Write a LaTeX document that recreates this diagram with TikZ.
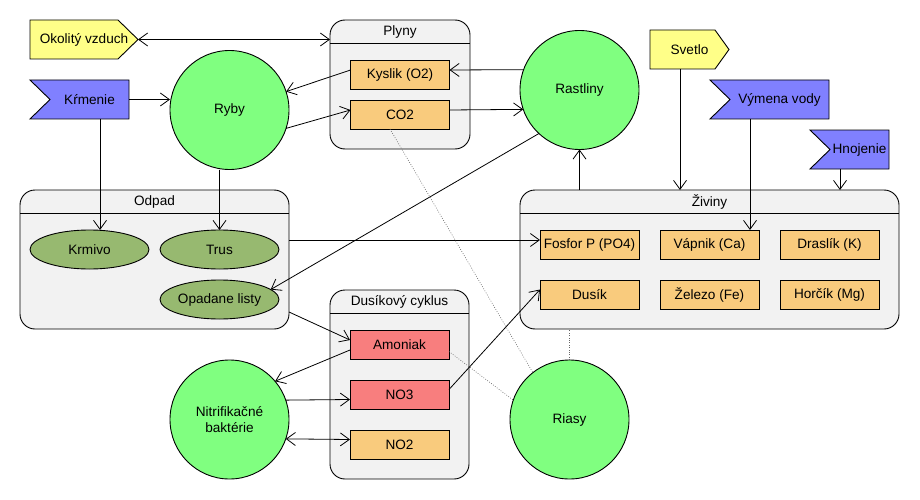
\documentclass[tikz,border=0pt]{standalone}
\usepackage{fontspec}
\setmainfont{Liberation Sans}
\usetikzlibrary{arrows.meta,calc,shapes.geometric}
\definecolor{cgreen}{HTML}{80FF80}
\definecolor{colive}{HTML}{97B970}
\definecolor{corange}{HTML}{F9CB7D}
\definecolor{cred}{HTML}{F87E7E}
\definecolor{cblue}{HTML}{8080FF}
\definecolor{cyellow}{HTML}{FFFF88}
\definecolor{cgray}{HTML}{F2F2F2}
\definecolor{cdot}{HTML}{666666}
\begin{document}
\begin{tikzpicture}[x=1pt,y=-1pt,
  font=\fontsize{13.6}{16.5}\selectfont,
  every node/.style={inner sep=0pt, outer sep=0pt},
  cont/.style={draw, fill=cgray, rounded corners=15pt, line width=0.9pt},
  box/.style={draw, line width=0.9pt, minimum width=99pt, minimum height=29pt},
  obox/.style={box, fill=corange},
  rbox/.style={box, fill=cred},
  circ/.style={circle, draw, line width=0.9pt, fill=cgreen, minimum size=119pt, align=center},
  ell/.style={ellipse, draw, line width=0.9pt, fill=colive, minimum width=119pt, minimum height=39pt},
  frame/.style={minimum height=39pt},
  outl/.style={draw, line width=0.9pt},
  arr/.style={-{Straight Barb[length=9pt,width=13pt]}, line width=0.8pt},
  darr/.style={{Straight Barb[length=9pt,width=13pt]}-{Straight Barb[length=9pt,width=13pt]}, line width=0.8pt},
  dots/.style={draw=cdot, line width=0.6pt, dash pattern=on 0.8pt off 1.6pt},
]
\useasboundingbox (0,0) rectangle (920,500);

% containers
\node[cont, minimum width=140pt, minimum height=129pt] (plyny) at (400,84.5) {};
\node[cont, minimum width=269pt, minimum height=139pt] (odpad) at (154.5,259.5) {};
\node[cont, minimum width=379pt, minimum height=139pt] (ziv) at (709.5,259.5) {};
\node[cont, minimum width=139pt, minimum height=189pt] (dus) at (399.5,384.5) {};
\draw[line width=0.9pt] ([yshift=-23pt]plyny.north west) -- ([yshift=-23pt]plyny.north east);
\draw[line width=0.9pt] ([yshift=-23pt]odpad.north west) -- ([yshift=-23pt]odpad.north east);
\draw[line width=0.9pt] ([yshift=-23pt]ziv.north west) -- ([yshift=-23pt]ziv.north east);
\draw[line width=0.9pt] ([yshift=-23pt]dus.north west) -- ([yshift=-23pt]dus.north east);
\node (plynyT) at ([yshift=-11.5pt]plyny.north) {Plyny};
\node (odpadT) at ([yshift=-11.5pt]odpad.north) {Odpad};
\node (zivT) at ([yshift=-11.5pt]ziv.north) {Živiny};
\node (dusT) at ([yshift=-11.5pt]dus.north) {Dusíkový cyklus};

% boxes
\node[obox] (kys) at (400,74.5) {Kyslik (O2)};
\node[obox] (co2) at (400,114.5) {CO2};
\node[obox] (fos) at (589.5,244.5) {Fosfor P (PO4)};
\node[obox] (vap) at (709.5,244.5) {Vápnik (Ca)};
\node[obox] (dra) at (829.5,244.5) {Draslík (K)};
\node[obox] (dsk) at (589.5,294.5) {Dusík};
\node[obox] (zel) at (709.5,294.5) {Železo (Fe)};
\node[obox] (hor) at (829.5,294.5) {Horčík (Mg)};
\node[rbox] (amon) at (399.5,344.5) {Amoniak};
\node[rbox] (no3) at (399.5,394.5) {NO3};
\node[obox] (no2) at (399.5,444.5) {NO2};

% circles
\node[circ] (ryby) at (229.5,110) {Ryby};
\node[circ] (rast) at (579.5,90) {Rastliny};
\node[circ] (nit) at (229.5,419.5) {Nitrifikačné\\baktérie};
\node[circ] (ria) at (569.5,419.5) {Riasy};

% ellipses
\node[ell] (krm) at (89.5,249.5) {Krmivo};
\node[ell] (trus) at (219.5,249.5) {Trus};
\node[ell] (opl) at (219.5,299.5) {Opadane listy};

% pentagons
\node[frame, minimum width=108pt] (oko) at (84,39.5) {};
\draw[outl, fill=cyellow] (oko.north west) -- ([xshift=-20pt]oko.north east) -- (oko.east) -- ([xshift=-20pt]oko.south east) -- (oko.south west) -- cycle;
\node (okoT) at (oko.center) {Okolitý vzduch};
\node[frame, minimum width=79pt] (sv) at (689.5,49.5) {};
\draw[outl, fill=cyellow] (sv.north west) -- ([xshift=-14pt]sv.north east) -- (sv.east) -- ([xshift=-14pt]sv.south east) -- (sv.south west) -- cycle;
\node (svT) at (sv.center) {Svetlo};

% flags
\node[frame, minimum width=99pt] (kr) at (79.5,99.5) {};
\draw[outl, fill=cblue] (kr.north west) -- (kr.north east) -- (kr.south east) -- (kr.south west) -- ([xshift=20pt]kr.west) -- cycle;
\node (krT) at ([xshift=10pt]kr.center) {Kŕmenie};
\node[frame, minimum width=119pt] (vym) at (769.5,99.5) {};
\draw[outl, fill=cblue] (vym.north west) -- (vym.north east) -- (vym.south east) -- (vym.south west) -- ([xshift=20pt]vym.west) -- cycle;
\node (vymT) at ([xshift=10pt]vym.center) {Výmena vody};
\node[frame, minimum width=79pt] (hno) at (849.5,149.5) {};
\draw[outl, fill=cblue] (hno.north west) -- (hno.north east) -- (hno.south east) -- (hno.south west) -- ([xshift=20pt]hno.west) -- cycle;
\node (hnoT) at ([xshift=10pt]hno.center) {Hnojenie};

% connectors
\draw[darr] (oko.east) -- (oko.east -| plyny.west);
\draw[arr] (kr.east) -- (kr.east -| ryby.west);
\draw[arr] ([yshift=4.5pt]kys.west) -- (ryby.18);
\draw[arr] (ryby.-18) -- ([yshift=4.5pt]co2.west);
\draw[arr] (rast.160.5) -- ([yshift=4.5pt]kys.east);
\draw[arr] ([yshift=4.5pt]co2.east) -- (rast.199.5);
\draw[arr] ([xshift=20.5pt]kr.south) -- ([xshift=20.5pt]kr.south |- krm.north);
\draw[arr] (ryby.south -| trus.north) -- (trus.north);
\draw[arr] (rast.227) -- (opl.11);
\draw[arr] ([yshift=19.5pt]odpad.east) -- ([yshift=19.5pt]odpad.east -| fos.west);
\draw[arr] (ziv.north -| rast.south) -- (rast.south);
\draw[arr] ([xshift=-9.5pt]sv.south) -- ([xshift=-9.5pt]sv.south |- ziv.north);
\draw[arr] ([xshift=-19.5pt]vym.south) -- ([xshift=-19.5pt]vym.south |- vap.north);
\draw[arr] ([xshift=-9.5pt]hno.south) -- ([xshift=-9.5pt]hno.south |- ziv.north);
\draw[arr] ([yshift=-52.5pt]odpad.east) -- ([yshift=4.5pt]amon.west);
\draw[arr] ([yshift=-5.5pt]amon.west) -- (nit.40);
\draw[arr] (nit.19.5) -- ([yshift=-5pt]no3.west);
\draw[darr] (nit.-19.5) -- ([yshift=5pt]no2.west);
\draw[arr] ([yshift=5pt]no3.east) -- ([yshift=5pt]dsk.west);

% dotted
\draw[dots] ([xshift=-10pt]co2.south) -- (ria.128.7);
\draw[dots] ([yshift=-7pt]amon.east) -- (ria.161);
\draw[dots] (ria.north) -- (ria.north |- ziv.south);
\end{tikzpicture}
\end{document}
